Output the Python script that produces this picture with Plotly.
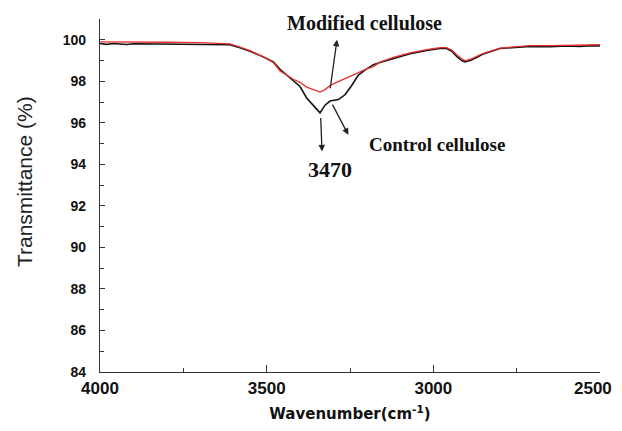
import plotly.graph_objects as go

# Control cellulose (black)
wn_control = [4000, 3980, 3960, 3940, 3920, 3900, 3850, 3800, 3750, 3700, 3650, 3610,
              3580, 3550, 3511, 3480, 3460, 3440, 3420, 3400, 3380, 3360, 3340, 3325,
              3310, 3285, 3265, 3245, 3225, 3200, 3180, 3160, 3120, 3070, 3020, 2980,
              2960, 2945, 2930, 2915, 2905, 2890, 2870, 2850, 2800, 2750, 2710, 2650,
              2600, 2560, 2530, 2500]
t_control = [99.82, 99.78, 99.82, 99.8, 99.77, 99.81, 99.8, 99.78, 99.8, 99.78, 99.78, 99.76,
             99.62, 99.45, 99.18, 98.94, 98.58, 98.3, 98.0, 97.75, 97.2, 96.85, 96.48, 96.85,
             97.05, 97.12, 97.35, 97.8, 98.3, 98.6, 98.8, 98.9, 99.1, 99.33, 99.48, 99.58,
             99.58, 99.45, 99.2, 99.0, 98.93, 99.0, 99.15, 99.32, 99.58, 99.64, 99.68, 99.66,
             99.7, 99.68, 99.72, 99.7]

# Modified cellulose (red)
wn_modified = [4000, 3900, 3800, 3700, 3650, 3610, 3580, 3550, 3511, 3480, 3460, 3440,
               3420, 3400, 3380, 3360, 3340, 3325, 3310, 3290, 3270, 3250, 3225, 3200,
               3180, 3160, 3120, 3070, 3020, 2980, 2960, 2945, 2930, 2915, 2905, 2890,
               2870, 2850, 2800, 2750, 2710, 2650, 2600, 2550, 2500]
t_modified = [99.9, 99.9, 99.88, 99.86, 99.84, 99.8, 99.65, 99.48, 99.18, 98.9, 98.5, 98.3,
              98.1, 97.95, 97.72, 97.6, 97.48, 97.6, 97.8, 97.95, 98.1, 98.25, 98.45, 98.6,
              98.71, 98.92, 99.15, 99.37, 99.52, 99.62, 99.62, 99.5, 99.28, 99.08, 99.0, 99.05,
              99.2, 99.35, 99.6, 99.68, 99.72, 99.72, 99.74, 99.76, 99.76]

x_ticks = [4000, 3500, 3000, 2500]
x_ticktext = ["4000", "3500", "3000", "2500&nbsp;&nbsp;&nbsp;"]
y_ticks = [84, 86, 88, 90, 92, 94, 96, 98, 100]

fig = go.Figure()
fig.add_trace(go.Scatter(x=wn_control, y=t_control, mode="lines",
                         line=dict(color="#111111", width=1.6), name="Control cellulose"))
fig.add_trace(go.Scatter(x=wn_modified, y=t_modified, mode="lines",
                         line=dict(color="#e8302e", width=1.3), name="Modified cellulose"))

serif = "Liberation Serif, Times New Roman, serif"
arrow = dict(showarrow=True, arrowhead=2, arrowsize=1, arrowwidth=1.3, arrowcolor="#222222",
             axref="x", ayref="y", xref="x", yref="y", text="")
fig.add_annotation(x=3289, y=100.0, ax=3310, ay=97.59, **arrow)
fig.add_annotation(x=3255, y=95.42, ax=3305, ay=96.95, **arrow)
fig.add_annotation(x=3334, y=94.62, ax=3338, ay=96.3, **arrow)
fig.add_annotation(x=3208, y=100.82, text="<b>Modified cellulose</b>", showarrow=False,
                   font=dict(family=serif, size=20, color="#111111"))
fig.add_annotation(x=2989, y=94.94, text="<b>Control cellulose</b>", showarrow=False,
                   font=dict(family=serif, size=19, color="#111111"))
fig.add_annotation(x=3310, y=93.73, text="<b>3470</b>", showarrow=False,
                   font=dict(family=serif, size=22, color="#111111"))
# y-axis title (placed slightly above the axis centre, as in the reference)
fig.add_annotation(xref="paper", yref="paper", x=-0.152, y=0.538, text="Transmittance (%)",
                   textangle=-90, showarrow=False, xanchor="center", yanchor="middle",
                   font=dict(family="Liberation Sans, Arial, sans-serif", size=21, color="#222222"))

fig.update_layout(
    width=614, height=415,
    margin=dict(l=92, r=22, t=11, b=51, autoexpand=False),
    paper_bgcolor="white", plot_bgcolor="white",
    showlegend=False,
)
fig.update_xaxes(
    range=[4000, 2500], tickvals=x_ticks, ticktext=x_ticktext,
    automargin=False,
    showgrid=False, zeroline=False, showline=True, linecolor="#333333", linewidth=1.3,
    ticks="inside", ticklen=7, tickwidth=1.2, tickcolor="#333333",
    minor=dict(tickvals=[3750, 3250, 2750], ticks="inside", ticklen=4, tickwidth=1.2, tickcolor="#333333"),
    tickfont=dict(family="Liberation Sans, Arial, sans-serif", size=17, color="#111111", weight="bold"),
    ticklabelstandoff=0, ticklabeloverflow="allow",
    title=dict(text="<b>Wavenumber(cm<sup>-1</sup>)</b>", standoff=18,
               font=dict(family="DejaVu Sans, Verdana, sans-serif", size=15, color="#111111")),
)
fig.update_yaxes(
    range=[84, 101], tickvals=y_ticks, ticktext=[str(v) for v in y_ticks],
    automargin=False,
    showgrid=False, zeroline=False, showline=True, linecolor="#333333", linewidth=1.3,
    ticks="inside", ticklen=5, tickwidth=1.2, tickcolor="#333333",
    minor=dict(tickvals=[85, 87, 89, 91, 93, 95, 97, 99, 101], ticks="inside", ticklen=4,
               tickwidth=1.2, tickcolor="#333333"),
    tickfont=dict(family="Liberation Sans, Arial, sans-serif", size=14, color="#111111", weight="bold"),
    ticklabelstandoff=10,
)

fig.write_html("out.html")
